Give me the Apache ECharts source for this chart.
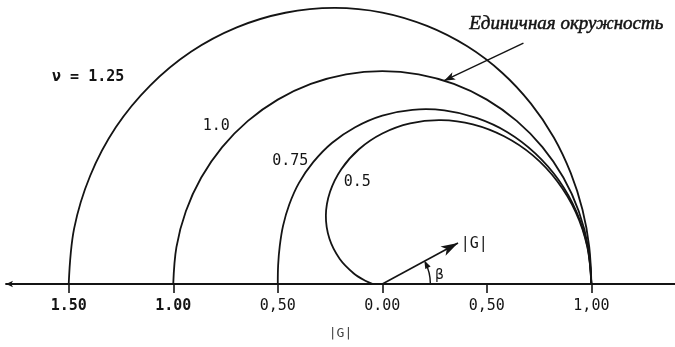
<!DOCTYPE html>
<html>
<head>
<meta charset="utf-8">
<script src="https://cdn.jsdelivr.net/npm/echarts@6/dist/echarts.min.js"></script>
<style>
  html, body { margin: 0; padding: 0; background: #ffffff; }
  #chart { width: 675px; height: 347px; }
</style>
</head>
<body>
<div id="chart"></div>
<script>
// Phase angle β of the Fourier mode, degrees
const betaDeg = [0, 10, 20, 30, 40, 50, 60, 70, 80, 90, 100, 110, 120, 130, 140, 150, 160, 170, 180];

// Amplification factor |G| along β for each Courant number ν
const gNu125 = [1.000, 1.005, 1.019, 1.041, 1.071, 1.106, 1.146, 1.188, 1.231, 1.275, 1.317, 1.356, 1.392, 1.424, 1.450, 1.472, 1.487, 1.497, 1.500];
const gNu100 = [1.000, 1.000, 1.000, 1.000, 1.000, 1.000, 1.000, 1.000, 1.000, 1.000, 1.000, 1.000, 1.000, 1.000, 1.000, 1.000, 1.000, 1.000, 1.000];
const gNu075 = [1.000, 0.997, 0.989, 0.975, 0.955, 0.931, 0.901, 0.868, 0.831, 0.791, 0.748, 0.705, 0.661, 0.620, 0.581, 0.548, 0.522, 0.506, 0.500];
const gNu050 = [1.000, 0.996, 0.985, 0.966, 0.940, 0.906, 0.866, 0.819, 0.766, 0.707, 0.643, 0.574, 0.500, 0.420, 0.330, 0.235, 0.145, 0.080, 0.045];

const curveLabels = ['ν = 1.25', '1.0', '0.75', '0.5'];

// Baseline ticks (|G| measured both ways from the origin) and their printed text
const tickValues = [-1.5, -1.0, -0.5, 0, 0.5, 1.0];
const tickLabels = ['1.50', '1.00', '0,50', '0.00', '0,50', '1,00'];

const unitCircleCaption = 'Единичная окружность';
const axisTitle = '|G|';

// Sample vector |G| at angle β
const vectorBeta = 28;
const vectorMag = 0.41;

// ---------------------------------------------------------------
const INK = '#141414';
const MONO = '"DejaVu Sans Mono", "Liberation Mono", monospace';

function toXY(r, deg) {
  const a = deg * Math.PI / 180;
  return [r * Math.cos(a), r * Math.sin(a)];
}
function curve(values) {
  return values.map((r, i) => toXY(r, betaDeg[i]));
}

const curves = [gNu125, gNu100, gNu075, gNu050];

const chart = echarts.init(document.getElementById('chart'), null, { renderer: 'canvas' });

// Each |G|(β) locus is drawn as one smooth polyline through the axis scales
const series = curves.map((vals, i) => {
  const pts = curve(vals);
  return {
    name: curveLabels[i],
    type: 'custom',
    data: pts,
    encode: { x: 0, y: 1 },
    silent: true,
    clip: false,
    z: 3,
    renderItem: function (params, api) {
      if (params.dataIndex !== 0) return null;
      return {
        type: 'polyline',
        shape: { points: pts.map(p => api.coord(p)), smooth: 0.35 },
        style: { stroke: INK, lineWidth: 1.8, fill: null, lineJoin: 'round' }
      };
    }
  };
});

// Annotation arrows: the |G| vector and the pointer to the unit circle
const vecTip = toXY(vectorMag, vectorBeta);
series.push({
  type: 'line',
  data: [],
  silent: true,
  markLine: {
    silent: true,
    animation: false,
    label: { show: false },
    emphasis: { disabled: true },
    data: [
      [
        { coord: [0, 0], symbol: 'none', lineStyle: { color: INK, width: 1.6, type: 'solid' } },
        { coord: vecTip, symbol: 'arrow', symbolSize: [8, 17] }
      ],
      [
        { coord: [0.675, 1.131], symbol: 'none', lineStyle: { color: INK, width: 1.4, type: 'solid' } },
        { coord: toXY(1.0, 72.8), symbol: 'arrow', symbolSize: [6, 11] }
      ]
    ]
  }
});

chart.setOption({
  animation: false,
  backgroundColor: '#ffffff',
  grid: { left: 6, right: 0, top: 3, bottom: 63, containLabel: false },
  xAxis: {
    type: 'value',
    min: -1.8,
    max: 1.4,
    splitLine: { show: false },
    axisLine: {
      show: true,
      onZero: false,
      symbol: ['arrow', 'none'],
      symbolSize: [5, 7],
      lineStyle: { color: INK, width: 1.8 }
    },
    axisTick: {
      show: true,
      customValues: tickValues,
      length: 9,
      lineStyle: { color: INK, width: 1.6 }
    },
    axisLabel: {
      show: true,
      customValues: tickValues,
      margin: 15,
      fontFamily: MONO,
      fontSize: 15,
      color: INK,
      formatter: function (v) {
        for (let i = 0; i < tickValues.length; i++) {
          if (Math.abs(v - tickValues[i]) < 1e-6) {
            return i < 2 ? '{b|' + tickLabels[i] + '}' : tickLabels[i];
          }
        }
        return '';
      },
      rich: { b: { fontFamily: MONO, fontSize: 15, fontWeight: 'bold', color: INK } }
    },
    name: axisTitle,
    nameLocation: 'middle',
    nameGap: 43,
    nameTextStyle: { fontFamily: MONO, fontSize: 13, color: '#444' }
  },
  yAxis: {
    type: 'value',
    min: 0,
    max: 1.32,
    show: false
  },
  series: series
});

// Text annotations placed in data space
function px(p) { return chart.convertToPixel({ gridIndex: 0 }, p); }

const textSpecs = [
  { text: curveLabels[0], at: [-1.407, 0.972], font: 'bold 15px ' + MONO },
  { text: curveLabels[1], at: [-0.794, 0.742], font: '15px ' + MONO },
  { text: curveLabels[2], at: [-0.440, 0.577], font: '15px ' + MONO },
  { text: curveLabels[3], at: [-0.120, 0.479], font: '15px ' + MONO },
  { text: '|G|', at: [0.440, 0.188], font: '15px ' + MONO },
  { text: 'β', at: [0.273, 0.040], font: '14px ' + MONO },
  { text: unitCircleCaption, at: [0.880, 1.221], font: 'italic 19px "Liberation Serif", serif', stroke: true }
];

const graphics = textSpecs.map(s => {
  const p = px(s.at);
  const style = { text: s.text, font: s.font, fill: INK, align: 'center', verticalAlign: 'middle' };
  if (s.stroke) { style.stroke = INK; style.lineWidth = 0.5; }
  return { type: 'text', x: p[0], y: p[1], silent: true, z: 10, style: style };
});

// Small arc marking the angle β, with its arrowhead on the vector side
const o = px([0, 0]);
const rArc = px([0.23, 0])[0] - o[0];
const tipPx = px(vecTip);
const ang = Math.atan2(o[1] - tipPx[1], tipPx[0] - o[0]) - 0.03;
graphics.push({
  type: 'arc',
  silent: true,
  shape: { cx: o[0], cy: o[1], r: rArc, startAngle: -ang, endAngle: 0, clockwise: true },
  style: { stroke: INK, lineWidth: 1.4, fill: null }
});
const ex = o[0] + rArc * Math.cos(ang);
const ey = o[1] - rArc * Math.sin(ang);
const dx = -Math.sin(ang), dy = -Math.cos(ang);
const nx = -dy, ny = dx;
graphics.push({
  type: 'polygon',
  silent: true,
  shape: {
    points: [
      [ex + dx * 2, ey + dy * 2],
      [ex - dx * 6 + nx * 3, ey - dy * 6 + ny * 3],
      [ex - dx * 6 - nx * 3, ey - dy * 6 - ny * 3]
    ]
  },
  style: { fill: INK }
});

chart.setOption({ graphic: graphics });
</script>
</body>
</html>
